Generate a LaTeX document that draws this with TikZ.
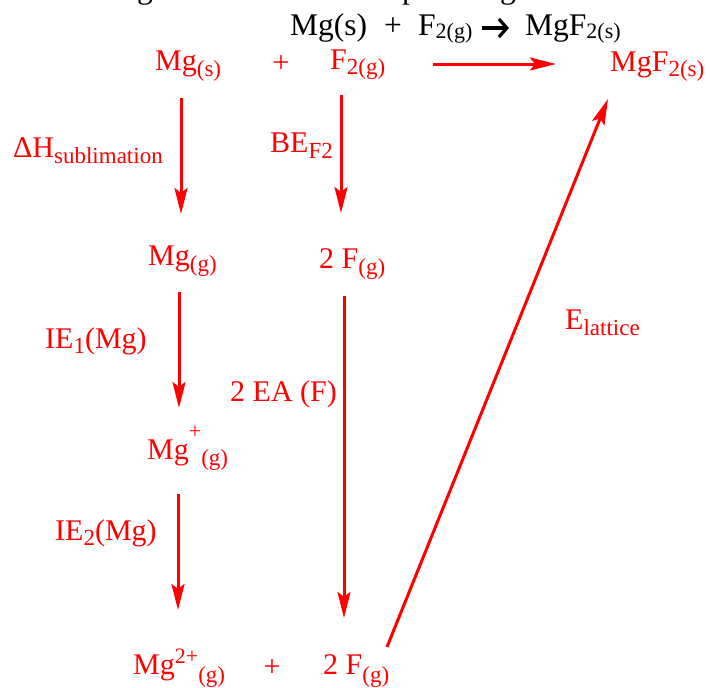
\documentclass[tikz,border=0pt]{standalone}
\usepackage{fontspec}
\setmainfont{Liberation Serif}
\usetikzlibrary{arrows.meta}
\newcommand{\rsub}[2][-6pt]{\raisebox{#1}{\fontsize{23}{23}\selectfont #2}}
\newcommand{\rsup}[2]{\raisebox{#1}{\fontsize{22}{22}\selectfont #2}}
\newcommand{\bsub}[1]{\raisebox{-3pt}{\fontsize{22}{22}\selectfont #1}}
\begin{document}
\begin{tikzpicture}[x=1pt,y=-1pt,
  lab/.style={anchor=base west, inner sep=0pt, text=red, font=\fontsize{30}{30}\selectfont},
  plus/.style={anchor=center, inner sep=0pt, text=red, font=\fontsize{30}{30}\selectfont},
  ttl/.style={anchor=base west, inner sep=0pt, text=black, font=\fontsize{31.5}{32}\selectfont},
  arr/.style={draw=red, line width=3pt, -{Stealth[length=26pt,width=13pt,inset=5pt]}},
  barb/.style={draw=black, line width=3.2pt, -{Straight Barb[length=8pt,width=18pt]}}]
\useasboundingbox (0,0) rectangle (710,688);
\fill[white] (0,0) rectangle (710,688);
% cut-off line above (only descenders visible)
\node[ttl] (cutg1) at (137,-1.5) {g};
\node[ttl] (cutp) at (402,-1.5) {p};
\node[ttl] (cutg2) at (500,-1.5) {g};
% black title
\node[ttl] (t1) at (290,35) {Mg(s)};
\node[anchor=center, inner sep=0pt, font=\fontsize{31.5}{32}\selectfont] (t2) at (393,27) {+};
\node[ttl] (t3) at (418,35) {F\bsub{2(g)}};
\node[ttl] (t4) at (525,35) {MgF\bsub{2(s)}};
\coordinate (ta) at (482,28);
\coordinate (tb) at (509,28);
\draw[barb] (ta) -- (tb);
% red species
\node[lab] (mgs) at (155,70) {Mg\rsub{(s)}};
\node[plus] (p1) at (281,64) {+};
\node[lab] (f2g) at (330,69) {F\rsub[-5pt]{2(g)}};
\node[lab] (mgf2) at (610,71) {MgF\rsub[-5pt]{2(s)}};
\node[lab] (mgg) at (148,265) {Mg\rsub{(g)}};
\node[lab] (f2) at (319,268) {2 F\rsub{(g)}};
\node[lab] (mgp) at (147,459) {Mg\rsup{21pt}{+}\rsub{(g)}};
\node[lab] (mg2p) at (133,674) {Mg\rsup{11pt}{2+}\rsub[-8pt]{(g)}};
\node[plus] (p2) at (272,668) {+};
\node[lab] (f2b) at (323,674) {2 F\rsub[-8pt]{(g)}};
% red labels
\node[lab] (lsub) at (13,157) {ΔH\rsub{sublimation}};
\node[lab] (lbe) at (270,152) {BE\rsub{F2}};
\node[lab] (lie1) at (45,348) {IE\rsub[-5pt]{1}(Mg)};
\node[lab] (lea) at (230,401) {2 EA (F)};
\node[lab] (lie2) at (55,540) {IE\rsub[-5pt]{2}(Mg)};
\node[lab] (llat) at (565,329) {E\rsub{lattice}};
% arrow end points
\coordinate (h1) at (433,64);  \coordinate (h2) at (556,64);
\coordinate (a1) at (181,98);  \coordinate (a2) at (181,214);
\coordinate (b1) at (341,95);  \coordinate (b2) at (341,213);
\coordinate (c1) at (179,292); \coordinate (c2) at (179,408);
\coordinate (d1) at (344,296); \coordinate (d2) at (344,618);
\coordinate (e1) at (178,494); \coordinate (e2) at (178,610);
\coordinate (l1) at (387,647); \coordinate (l2) at (608,99);
\draw[arr] (h1) -- (h2);
\draw[arr] (a1) -- (a2);
\draw[arr] (b1) -- (b2);
\draw[arr] (c1) -- (c2);
\draw[arr] (d1) -- (d2);
\draw[arr] (e1) -- (e2);
\draw[arr] (l1) -- (l2);
\end{tikzpicture}
\end{document}
